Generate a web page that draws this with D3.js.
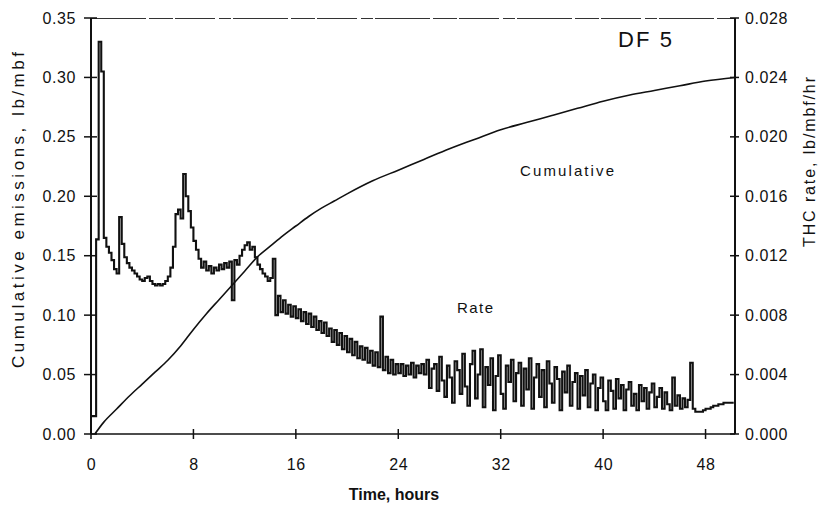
<!DOCTYPE html>
<html>
<head>
<meta charset="utf-8">
<script src="https://cdn.jsdelivr.net/npm/d3@7"></script>
<style>
  html, body { margin: 0; padding: 0; background: #fff; }
  svg { display: block; font-family: "Liberation Sans", Arial, sans-serif; }
</style>
</head>
<body>
<svg id="chart" width="823" height="509"></svg>
<script>
// Total hydrocarbon emissions during kiln run DF 5.

// Logged emission rate, lb/mbf/hr, one reading every 0.2 h starting at t = 0.
const sampleStepHours = 0.2;
const rateValues = [
  0.0012, 0.0012, 0.0131, 0.0264, 0.0244, 0.0132, 0.0126, 0.0122, 0.0117, 0.0111,
  0.0108, 0.0146, 0.0128, 0.0119, 0.0115, 0.0112, 0.0110, 0.0108, 0.0106, 0.0104,
  0.0103, 0.0105, 0.0106, 0.0103, 0.0101, 0.0100, 0.0101, 0.0100, 0.0101, 0.0103,
  0.0106, 0.0112, 0.0126, 0.0148, 0.0151, 0.0145, 0.0175, 0.0160, 0.0150, 0.0139,
  0.0130, 0.0124, 0.0118, 0.0112, 0.0116, 0.0110, 0.0113, 0.0108, 0.0112, 0.0110,
  0.0114, 0.0111, 0.0115, 0.0112, 0.0116, 0.0090, 0.0117, 0.0114, 0.0120, 0.0124,
  0.0127, 0.0129, 0.0124, 0.0126, 0.0119, 0.0114, 0.0111, 0.0108, 0.0106, 0.0103,
  0.0105, 0.0118, 0.0080, 0.0093, 0.0082, 0.0090, 0.0081, 0.0087, 0.0079, 0.0086,
  0.0078, 0.0084, 0.0076, 0.0082, 0.0074, 0.0081, 0.0072, 0.0079, 0.0070, 0.0076,
  0.0068, 0.0075, 0.0066, 0.0071, 0.0062, 0.0070, 0.0060, 0.0068, 0.0057, 0.0066,
  0.0055, 0.0064, 0.0053, 0.0062, 0.0051, 0.0059, 0.0050, 0.0058, 0.0048, 0.0056,
  0.0046, 0.0055, 0.0045, 0.0079, 0.0043, 0.0052, 0.0041, 0.0050, 0.0040, 0.0047,
  0.0041, 0.0047, 0.0039, 0.0046, 0.0040, 0.0048, 0.0038, 0.0046, 0.0041, 0.0047,
  0.0040, 0.0050, 0.0031, 0.0044, 0.0047, 0.0029, 0.0052, 0.0036, 0.0025, 0.0046,
  0.0038, 0.0021, 0.0049, 0.0043, 0.0027, 0.0054, 0.0032, 0.0019, 0.0047, 0.0056,
  0.0024, 0.0040, 0.0057, 0.0018, 0.0045, 0.0033, 0.0051, 0.0016, 0.0039, 0.0053,
  0.0027, 0.0017, 0.0046, 0.0035, 0.0050, 0.0022, 0.0041, 0.0048, 0.0019, 0.0044,
  0.0030, 0.0051, 0.0017, 0.0038, 0.0047, 0.0025, 0.0043, 0.0018, 0.0049, 0.0034,
  0.0021, 0.0045, 0.0037, 0.0016, 0.0042, 0.0028, 0.0046, 0.0019, 0.0035, 0.0041,
  0.0017, 0.0039, 0.0026, 0.0043, 0.0018, 0.0034, 0.0040, 0.0016, 0.0031, 0.0038,
  0.0022, 0.0016, 0.0036, 0.0029, 0.0017, 0.0037, 0.0024, 0.0033, 0.0016, 0.0030,
  0.0035, 0.0019, 0.0027, 0.0016, 0.0033, 0.0022, 0.0031, 0.0017, 0.0028, 0.0034,
  0.0018, 0.0025, 0.0031, 0.0017, 0.0028, 0.0020, 0.0016, 0.0038, 0.0019, 0.0026,
  0.0017, 0.0024, 0.0018, 0.0023, 0.0048, 0.0017, 0.0015, 0.0015, 0.0015, 0.0016,
  0.0017, 0.0017, 0.0018, 0.0019, 0.0019, 0.0020, 0.0020, 0.0021, 0.0021, 0.0021,
  0.0021, 0.0021
];

// Cumulative emissions, lb/mbf.
const cumulativeHours = [0.3, 1, 2, 3, 4, 5, 6, 7, 8, 9, 10, 11, 12, 13, 14, 15, 16, 17, 18, 19,
  20, 22, 24, 26, 28, 30, 32, 34, 36, 38, 40, 42, 44, 46, 48, 50.3];
const cumulativeValues = [0, 0.010, 0.021, 0.032, 0.042, 0.052, 0.062, 0.074, 0.088, 0.101,
  0.113, 0.125, 0.137, 0.149, 0.158, 0.167, 0.175, 0.183, 0.190, 0.196,
  0.202, 0.213, 0.222, 0.231, 0.240, 0.248, 0.256, 0.262, 0.268, 0.274,
  0.280, 0.285, 0.289, 0.293, 0.297, 0.300];

// Axis ticks.
const hourTicks = [0, 8, 16, 24, 32, 40, 48];
const cumulativeTicks = [0, 0.05, 0.10, 0.15, 0.20, 0.25, 0.30, 0.35];
const rateTicks = [0, 0.004, 0.008, 0.012, 0.016, 0.020, 0.024, 0.028];

const hourMax = 50.3;

const svg = d3.select("#chart");
const plot = { left: 91, right: 735, top: 18, bottom: 434 };

const x = d3.scaleLinear().domain([0, hourMax]).range([plot.left, plot.right]);
const yCum = d3.scaleLinear().domain([0, 0.35]).range([plot.bottom, plot.top]);
const yRate = d3.scaleLinear().domain([0, 0.028]).range([plot.bottom, plot.top]);

const ink = "#111";

// Top frame line (thin, broken)
svg.append("line")
  .attr("x1", plot.left).attr("x2", plot.right)
  .attr("y1", plot.top + 0.5).attr("y2", plot.top + 0.5)
  .attr("stroke", "#333").attr("stroke-width", 1)
  .attr("stroke-dasharray", "55 3 24 2 40 4 12 2");

// Rate series (stepped logger readings)
const ratePoints = rateValues.map((v, i) => [i * sampleStepHours, v]);
svg.append("path")
  .datum(ratePoints)
  .attr("fill", "none")
  .attr("stroke", ink)
  .attr("stroke-width", 2.1)
  .attr("stroke-linejoin", "miter")
  .attr("d", d3.line()
    .x(d => x(d[0]))
    .y(d => yRate(d[1]))
    .curve(d3.curveStepAfter));

// Cumulative series
const cumPoints = cumulativeHours.map((h, i) => [h, cumulativeValues[i]]);
svg.append("path")
  .datum(cumPoints)
  .attr("fill", "none")
  .attr("stroke", ink)
  .attr("stroke-width", 1.6)
  .attr("d", d3.line()
    .x(d => x(d[0]))
    .y(d => yCum(d[1]))
    .curve(d3.curveMonotoneX));

// Axes: labels via d3 axes, lines and crossing ticks drawn from the same scales
const tickFont = g => g.selectAll("text")
  .attr("font-size", 16)
  .attr("letter-spacing", 0.6)
  .attr("fill", ink);

const gLeft = svg.append("g")
  .attr("transform", `translate(${plot.left},0)`)
  .call(d3.axisLeft(yCum).tickValues(cumulativeTicks).tickFormat(d3.format(".2f")).tickSize(0).tickPadding(15))
  .call(tickFont);
gLeft.select(".domain").remove();

const gRight = svg.append("g")
  .attr("transform", `translate(${plot.right},0)`)
  .call(d3.axisRight(yRate).tickValues(rateTicks).tickFormat(d3.format(".3f")).tickSize(0).tickPadding(10))
  .call(tickFont);
gRight.select(".domain").remove();

const gBottom = svg.append("g")
  .attr("transform", `translate(0,${plot.bottom})`)
  .call(d3.axisBottom(x).tickValues(hourTicks).tickFormat(d3.format("d")).tickSize(0).tickPadding(25))
  .call(tickFont);
gBottom.select(".domain").remove();

svg.selectAll("g").attr("font-family", null);

// Axis lines
svg.append("line").attr("x1", plot.left).attr("x2", plot.left)
  .attr("y1", plot.top).attr("y2", plot.bottom)
  .attr("stroke", ink).attr("stroke-width", 2);
svg.append("line").attr("x1", plot.right).attr("x2", plot.right)
  .attr("y1", plot.top).attr("y2", plot.bottom)
  .attr("stroke", ink).attr("stroke-width", 2);
svg.append("line").attr("x1", plot.left).attr("x2", plot.right)
  .attr("y1", plot.bottom).attr("y2", plot.bottom)
  .attr("stroke", ink).attr("stroke-width", 1.6);

// Crossing tick marks
svg.append("g").selectAll("line").data(cumulativeTicks).join("line")
  .attr("x1", plot.left - 7).attr("x2", plot.left + 6)
  .attr("y1", d => yCum(d)).attr("y2", d => yCum(d))
  .attr("stroke", ink).attr("stroke-width", 1.5);
svg.append("g").selectAll("line").data(rateTicks).join("line")
  .attr("x1", plot.right - 5).attr("x2", plot.right + 4)
  .attr("y1", d => yRate(d)).attr("y2", d => yRate(d))
  .attr("stroke", ink).attr("stroke-width", 1.5);
svg.append("g").selectAll("line").data(hourTicks).join("line")
  .attr("x1", d => x(d)).attr("x2", d => x(d))
  .attr("y1", plot.bottom - 5).attr("y2", plot.bottom + 5)
  .attr("stroke", ink).attr("stroke-width", 1.5);

// Axis titles
svg.append("text")
  .attr("transform", "translate(24,210) rotate(-90)")
  .attr("text-anchor", "middle")
  .attr("font-size", 17)
  .attr("textLength", 316).attr("lengthAdjust", "spacing")
  .attr("fill", ink)
  .text("Cumulative emissions, lb/mbf");

svg.append("text")
  .attr("transform", "translate(815,162) rotate(-90)")
  .attr("text-anchor", "middle")
  .attr("font-size", 16)
  .attr("textLength", 170).attr("lengthAdjust", "spacing")
  .attr("fill", ink)
  .text("THC rate, lb/mbf/hr");

svg.append("text")
  .attr("x", 394).attr("y", 500)
  .attr("text-anchor", "middle")
  .attr("font-size", 16)
  .attr("font-weight", "bold")
  .attr("fill", ink)
  .text("Time, hours");

// In-plot labels
svg.append("text")
  .attr("x", 618).attr("y", 47)
  .attr("font-size", 22)
  .attr("textLength", 54).attr("lengthAdjust", "spacing")
  .attr("fill", ink)
  .text("DF 5");

svg.append("text")
  .attr("x", 520).attr("y", 176)
  .attr("font-size", 15)
  .attr("textLength", 94).attr("lengthAdjust", "spacing")
  .attr("fill", ink)
  .text("Cumulative");

svg.append("text")
  .attr("x", 457).attr("y", 313)
  .attr("font-size", 15)
  .attr("textLength", 36).attr("lengthAdjust", "spacing")
  .attr("fill", ink)
  .text("Rate");
</script>
</body>
</html>
